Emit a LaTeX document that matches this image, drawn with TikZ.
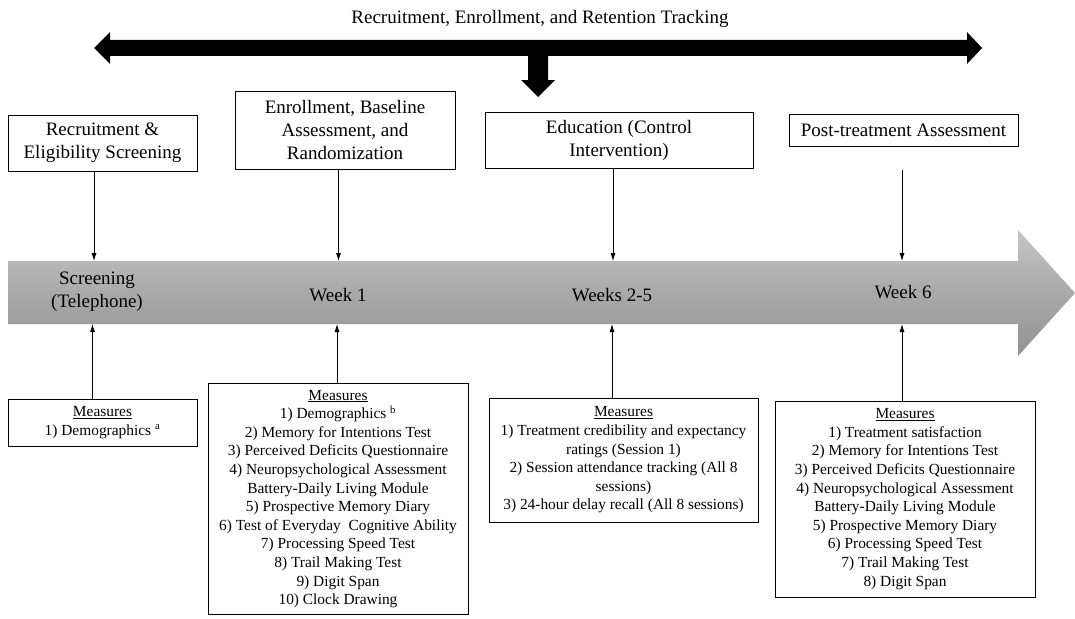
\documentclass[tikz,border=0pt]{standalone}
\usepackage{fontspec}
\setmainfont{Liberation Serif}
\usetikzlibrary{arrows.meta}
\definecolor{bandtop}{HTML}{C6C6C6}
\definecolor{bandmid}{HTML}{A9A9A9}
\definecolor{bandbot}{HTML}{929292}
\begin{document}
\begin{tikzpicture}[x=1pt,y=-1pt,
  box/.style={draw=black, line width=0.9pt, align=center, inner sep=0pt, font=\fontsize{19}{23}\selectfont},
  mbox/.style={draw=black, line width=0.9pt, align=center, inner sep=0pt, font=\fontsize{15.4}{18.6}\selectfont},
  lbl/.style={align=center, inner sep=0pt, font=\fontsize{19}{23}\selectfont},
  conn/.style={draw=black, line width=0.8pt, -{Latex[length=8pt,width=5pt]}}]
\clip (0,0) rectangle (1075,618);
\fill[white] (0,0) rectangle (1075,618);

% title and tracking arrow
\node[lbl] (title) at (540,19) {Recruitment, Enrollment, and Retention Tracking};
\fill[black] (94,48) -- (110,32) -- (110,40) -- (967,40) -- (967,32) -- (982,48)
  -- (967,64) -- (967,56) -- (548,56) -- (548,80) -- (555,80) -- (538,97) -- (521,80)
  -- (528,80) -- (528,56) -- (110,56) -- (110,64) -- cycle;

% timeline band
\shade[top color=bandtop, bottom color=bandbot, middle color=bandmid]
  (8,261) -- (1018,261) -- (1018,230) -- (1075,293) -- (1018,356) -- (1018,324) -- (8,324) -- cycle;

% top boxes
\node[box, minimum width=189pt, minimum height=56pt] (b1) at (102.5,143) {Recruitment \&\\Eligibility Screening};
\node[box, minimum width=220pt, minimum height=78pt] (b2) at (345,130) {Enrollment, Baseline\\Assessment, and\\Randomization};
\node[box, minimum width=268pt, minimum height=56pt] (b3) at (619,140) {Education (Control\\Intervention)};
\node[box, minimum width=229pt, minimum height=32pt] (b4) at (903.5,130) {Post-treatment Assessment};

% band labels
\node[lbl] (w0) at (97,292) {Screening\\(Telephone)};
\node[lbl] (w1) at (338,295) {Week 1};
\node[lbl] (w2) at (612,295) {Weeks 2-5};
\node[lbl] (w3) at (903,292) {Week 6};

% band edge coordinates
\coordinate (t1) at (94,261);
\coordinate (t2) at (338.5,261);
\coordinate (t3) at (613,261);
\coordinate (t4) at (902,261);
\coordinate (u1) at (92.5,324);
\coordinate (u2) at (337,324);
\coordinate (u3) at (612,324);
\coordinate (u4) at (902,324);

% measures boxes
\node[mbox, minimum width=189pt, minimum height=47pt] (m1) at (102.5,422.5)
  {\underline{Measures}\\1) Demographics \textsuperscript{a}};
\node[mbox, minimum width=260pt, anchor=north, inner ysep=6.5pt] (m2) at (338,383)
  {\underline{Measures}\\1) Demographics \textsuperscript{b}\\2) Memory for Intentions Test\\3) Perceived Deficits Questionnaire\\4) Neuropsychological Assessment\\Battery-Daily Living Module\\5) Prospective Memory Diary\\6) Test of Everyday\ \ Cognitive Ability\\7) Processing Speed Test\\8) Trail Making Test\\9) Digit Span\\10) Clock Drawing};
\node[mbox, minimum width=269pt, minimum height=124pt] (m3) at (623.5,460)
  {\underline{Measures}\\1) Treatment credibility and expectancy\\ratings (Session 1)\\2) Session attendance tracking (All 8\\sessions)\\3) 24-hour delay recall (All 8 sessions)};
\node[mbox, minimum width=260pt, minimum height=196pt] (m4) at (905,499)
  {\underline{Measures}\\1) Treatment satisfaction\\2) Memory for Intentions Test\\3) Perceived Deficits Questionnaire\\4) Neuropsychological Assessment\\Battery-Daily Living Module\\5) Prospective Memory Diary\\6) Processing Speed Test\\7) Trail Making Test\\8) Digit Span};

% connectors
\draw[conn] (b1.south -| t1) -- (t1);
\draw[conn] (b2.south -| t2) -- (t2);
\draw[conn] (b3.south -| t3) -- (t3);
\draw[conn] (b4.south -| t4) ++(0,24) -- (t4);
\draw[conn] (m1.north -| u1) -- (u1);
\draw[conn] (m2.north -| u2) -- (u2);
\draw[conn] (m3.north -| u3) -- (u3);
\draw[conn] (m4.north -| u4) -- (u4);
\end{tikzpicture}
\end{document}
